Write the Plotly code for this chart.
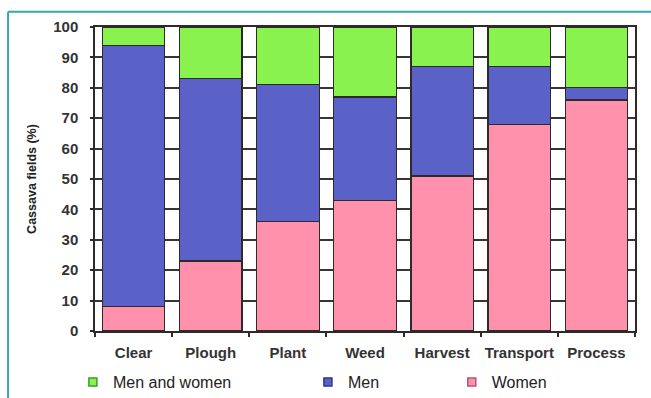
import plotly.graph_objects as go

# Share of cassava fields where each task is done by women, men, or both
tasks = ["Clear", "Plough", "Plant", "Weed", "Harvest", "Transport", "Process"]
women = [8, 23, 36, 43, 51, 68, 76]
men = [86, 60, 45, 34, 36, 19, 4]
men_and_women = [6, 17, 19, 23, 13, 13, 20]
y_ticks = [0, 10, 20, 30, 40, 50, 60, 70, 80, 90, 100]

GREEN = "#8AF24F"
BLUE = "#5A62C8"
PINK = "#FF91AC"
EDGE = "#2E2A2A"
FONT = "Liberation Sans"

fig = go.Figure()

series = [
    ("Women", women, PINK),
    ("Men", men, BLUE),
    ("Men and women", men_and_women, GREEN),
]
for name, vals, color in series:
    fig.add_trace(go.Bar(
        x=tasks, y=vals, name=name, showlegend=False,
        marker=dict(color=color, line=dict(color=EDGE, width=1.2)),
    ))

# Legend keys: small outlined squares, each in its own legend box
legend_keys = [
    ("Men and women", GREEN, "#3C9A2A", "legend", 0.112),
    ("Men", BLUE, "#2F3590", "legend2", 0.473),
    ("Women", PINK, "#B05A70", "legend3", 0.694),
]
for name, color, edge, lg, _ in legend_keys:
    fig.add_trace(go.Scatter(
        x=[None], y=[None], mode="markers", name=name, legend=lg,
        marker=dict(symbol="square", size=8, color=color,
                    line=dict(color=edge, width=1.5)),
    ))

legend_style = dict(
    orientation="h", xref="container", yref="container",
    yanchor="middle", y=0.04, xanchor="left",
    font=dict(family=FONT, size=16, color="#222222"),
    bgcolor="rgba(0,0,0,0)", itemwidth=30,
)

layout_legends = {}
for name, _, _, lg, xpos in legend_keys:
    layout_legends[lg] = dict(legend_style, x=xpos)

fig.update_layout(
    width=651, height=398,
    margin=dict(l=95, r=16, t=27, b=67, autoexpand=False),
    barmode="stack", bargap=0.19,
    paper_bgcolor="white", plot_bgcolor="white",
    font=dict(family=FONT, color="#333333"),
    **layout_legends,
    xaxis=dict(
        showline=True, linecolor=EDGE, linewidth=1.5, mirror=True,
        ticks="outside", tickson="boundaries", ticklen=4, tickcolor=EDGE,
        tickwidth=1.5, showgrid=False, tickangle=0,
        tickfont=dict(family=FONT, size=15, color="#333333", weight="bold"),
        ticklabelstandoff=7,
    ),
    yaxis=dict(
        range=[0, 100], tickvals=y_ticks,
        showline=True, linecolor=EDGE, linewidth=1.5, mirror=True,
        ticks="outside", ticklen=3, tickcolor=EDGE, tickwidth=1.5,
        showgrid=True, gridcolor="#3A3535", gridwidth=1.5,
        zeroline=False,
        tickfont=dict(family=FONT, size=15, color="#333333", weight="bold"),
        ticklabelstandoff=9,
        title=dict(text="Cassava fields (%)", standoff=14,
                   font=dict(family=FONT, size=12.5, color="#222222", weight="bold")),
    ),
    shapes=[
        # teal frame along the top and left edges of the page
        dict(type="line", xref="paper", yref="paper",
             x0=-0.161, x1=1.05, y0=1.05, y1=1.05,
             line=dict(color="#3AA6A9", width=2)),
        dict(type="line", xref="paper", yref="paper",
             x0=-0.161, x1=-0.161, y0=1.05, y1=-0.25,
             line=dict(color="#3AA6A9", width=2)),
    ],
)

fig.write_html("out.html")
